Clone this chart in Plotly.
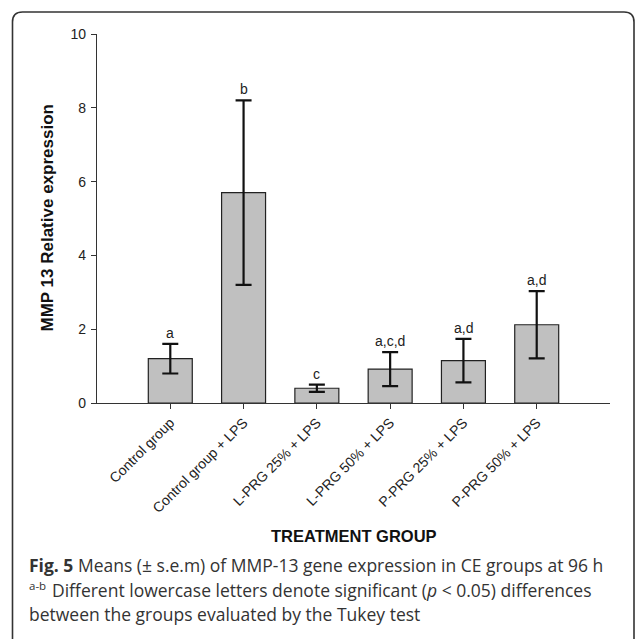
import plotly.graph_objects as go

# ---- data ----
categories = ["Control group", "Control group + LPS", "L-PRG 25% + LPS",
              "L-PRG 50% + LPS", "P-PRG 25% + LPS", "P-PRG 50% + LPS"]
means = [1.20, 5.70, 0.40, 0.92, 1.15, 2.12]
sems = [0.40, 2.50, 0.10, 0.46, 0.59, 0.91]
letters = ["a", "b", "c", "a,c,d", "a,d", "a,d"]
y_ticks = [0, 2, 4, 6, 8, 10]

W, H = 635, 639
L, R, T, B = 97, 25, 34, 236
PW, PH = W - L - R, H - T - B


def px(x):
    return (x - L) / PW


def py(y):
    return (H - B - y) / PH


fig = go.Figure()
fig.add_trace(go.Bar(
    x=categories, y=means, width=0.6,
    marker=dict(color="#c0c0c0", line=dict(color="#222222", width=1.2)),
    error_y=dict(type="data", array=sems, visible=True, color="#111111",
                 thickness=2.2, width=8),
    showlegend=False,
))

annotations = []
for c, m, s, t in zip(categories, means, sems, letters):
    annotations.append(dict(x=c, y=m + s, xref="x", yref="y", text=t,
                            showarrow=False, yanchor="bottom", yshift=1,
                            font=dict(family="Arial", size=14, color="#222222")))

annotations.append(dict(x=px(47), y=0.5, xref="paper", yref="paper",
                        text="<b>MMP 13 Relative expression</b>", textangle=-90,
                        showarrow=False, xanchor="center", yanchor="middle",
                        font=dict(family="Arial", size=17, color="#111111")))
annotations.append(dict(x=0.5, y=py(536), xref="paper", yref="paper",
                        text="<b>TREATMENT GROUP</b>", showarrow=False,
                        xanchor="center", yanchor="middle",
                        font=dict(family="Arial", size=16.5, color="#111111")))

cap_font = dict(family="Open Sans", size=17.5, color="#333333")
cap_items = [
    (28, 565, "<b>Fig. 5</b> Means (± s.e.m) of MMP-13 gene expression in CE groups at 96 h", cap_font),
    (28, 585, "a-b", dict(family="Open Sans", size=11.5, color="#333333")),
    (51, 590, "Different lowercase letters denote significant (<i>p</i> < 0.05) differences", cap_font),
    (28, 614, "between the groups evaluated by the Tukey test", cap_font),
]
for xx, yy, txt, fnt in cap_items:
    annotations.append(dict(x=px(xx), y=py(yy), xref="paper", yref="paper",
                            text=txt, showarrow=False, xanchor="left",
                            yanchor="middle", borderpad=0, font=fnt))

# rounded frame
x0, y0, x1, y1, r = px(12.5), py(12), px(634), py(680), 10
rx, ry = r / PW, r / PH
path = (f"M {x0},{y1} L {x0},{y0 - ry} Q {x0},{y0} {x0 + rx},{y0} "
        f"L {x1 - rx},{y0} Q {x1},{y0} {x1},{y0 - ry} L {x1},{y1}")

fig.update_layout(
    width=W, height=H,
    margin=dict(l=L, r=R, t=T, b=B),
    paper_bgcolor="white", plot_bgcolor="white",
    annotations=annotations,
    shapes=[dict(type="path", path=path, xref="paper", yref="paper",
                 line=dict(color="#333333", width=1.6))],
    bargap=0.4,
    xaxis=dict(range=[-1, 6], tickangle=-45, showline=True, linecolor="#333333",
               linewidth=1.2, ticks="outside", ticklen=5, tickcolor="#333333",
               showgrid=False, zeroline=False,
               tickfont=dict(family="Arial", size=14, color="#222222")),
    yaxis=dict(range=[0, 10], tickvals=y_ticks, showline=True, linecolor="#333333",
               linewidth=1.2, ticks="outside", ticklen=5, tickcolor="#333333",
               showgrid=False, zeroline=False, ticklabelstandoff=2,
               tickfont=dict(family="Arial", size=14, color="#222222")),
)

fig.write_html("out.html")
